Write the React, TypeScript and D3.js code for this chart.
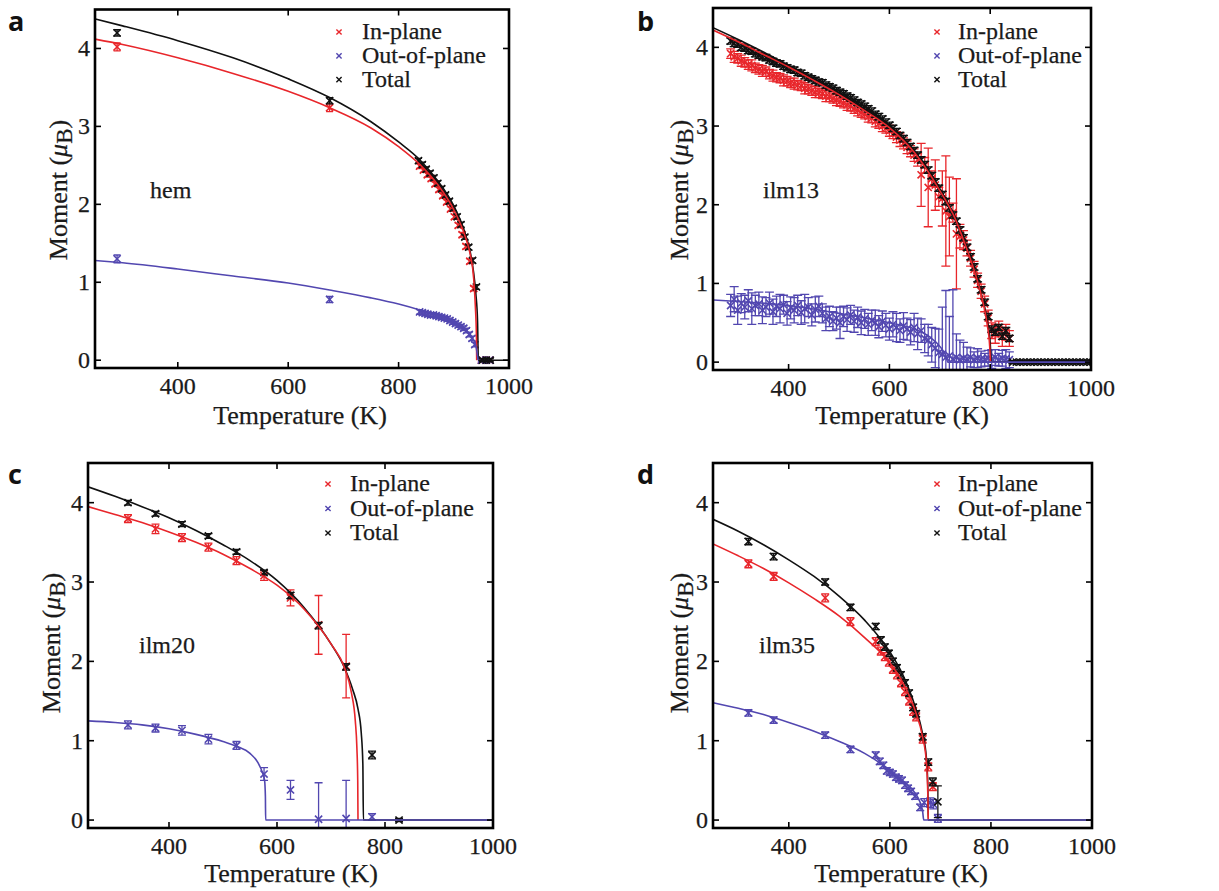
import React from 'react';
import * as d3 from 'd3';

type Pt = [number, number, number?];
type CP = [number, number];

const xTicks = [400, 600, 800, 1000];
const yTicks = [0, 1, 2, 3, 4];
const legendLabels = ['In-plane', 'Out-of-plane', 'Total'];
const RED = '#e8262b';
const BLUE = '#5247b0';
const BLACK = '#111111';

// ---------------- panel a : hem ----------------
const hemInPlane: Pt[] = [[290,4.02,0.05],[675,3.24,0.05],[838,2.49,0.03],[845,2.44,0.03],[852,2.38,0.03],[859,2.33,0.03],[866,2.26,0.03],[873,2.19,0.03],[880,2.11,0.03],[887,2.03,0.03],[894,1.94,0.03],[901,1.84,0.03],[908,1.73,0.03],[915,1.61,0.03],[922,1.46,0.03],[929,1.27,0.03],[936,0.92,0.03],[950,0,0.02],[958,0,0.02],[965,0,0.02]];
const hemOutOfPlane: Pt[] = [[290,1.3,0.05],[675,0.78,0.04],[838,0.62,0.03],[843,0.61,0.03],[848,0.6,0.03],[853,0.59,0.03],[858,0.58,0.03],[863,0.58,0.03],[868,0.57,0.03],[873,0.56,0.03],[878,0.55,0.03],[883,0.54,0.03],[888,0.53,0.03],[893,0.51,0.03],[898,0.49,0.03],[903,0.47,0.03],[908,0.45,0.03],[913,0.43,0.03],[918,0.41,0.03],[923,0.38,0.03],[928,0.33,0.03],[933,0.28,0.03],[938,0.2,0.03],[950,0,0.02],[958,0,0.02],[965,0,0.02]];
const hemTotal: Pt[] = [[290,4.2,0.04],[675,3.33,0.04],[836,2.56,0.03],[843,2.51,0.03],[850,2.45,0.03],[857,2.4,0.03],[864,2.34,0.03],[871,2.27,0.03],[878,2.2,0.03],[885,2.12,0.03],[892,2.04,0.03],[899,1.95,0.03],[906,1.84,0.03],[913,1.74,0.03],[920,1.58,0.03],[927,1.45,0.03],[934,1.28,0.03],[941,0.94,0.03],[952,0,0.02],[959,0,0.02],[966,0,0.02]];
const hemInPlaneFit: CP[] = [[250,4.12],[300,4.05],[400,3.88],[500,3.68],[600,3.45],[675,3.24],[750,2.98],[800,2.74],[840,2.5],[870,2.26],[900,1.93],[920,1.6],[930,1.35],[936,1.05],[939,0.7],[941,0.3],[941.5,0]];
const hemOutOfPlaneFit: CP[] = [[250,1.28],[300,1.25],[400,1.17],[500,1.08],[600,0.99],[675,0.9],[750,0.8],[800,0.72],[840,0.64],[870,0.57],[900,0.49],[920,0.4],[935,0.27],[941,0.15],[944,0]];
const hemTotalFit: CP[] = [[250,4.38],[300,4.29],[400,4.1],[500,3.88],[600,3.61],[675,3.37],[750,3.06],[800,2.8],[840,2.56],[870,2.31],[900,1.98],[920,1.64],[930,1.38],[936,1.12],[940,0.85],[943,0.5],[944.5,0],[1000,0]];

// ---------------- panel b : ilm13 ----------------
const ilm13T = [285,292,299,306,313,320,327,334,341,348,355,362,369,376,383,390,397,404,411,418,425,432,439,446,453,460,467,474,481,488,495,502,509,516,523,530,537,544,551,558,565,572,579,586,593,600,607,614,621,628,635,642,649,656,663,670,677,684,691,698,705,712,719,726,733,740,747,754,761,768,775,782,789,796,803,810,817,824,831,838];
const ilm13TotalM = [4.08,4.05,4.04,4.0,3.99,3.96,3.95,3.92,3.9,3.88,3.87,3.84,3.82,3.8,3.79,3.76,3.74,3.72,3.71,3.68,3.67,3.64,3.62,3.6,3.58,3.56,3.55,3.52,3.5,3.48,3.45,3.43,3.41,3.38,3.36,3.33,3.3,3.28,3.25,3.22,3.19,3.15,3.12,3.09,3.05,3.01,2.97,2.93,2.88,2.84,2.79,2.74,2.69,2.63,2.57,2.51,2.44,2.37,2.29,2.21,2.13,2.04,1.96,1.87,1.79,1.68,1.58,1.46,1.34,1.21,1.06,0.92,0.76,0.58,0.42,0.38,0.44,0.33,0.4,0.3];
const ilm13InPlaneM = [3.92,3.88,3.86,3.83,3.81,3.78,3.77,3.74,3.72,3.7,3.69,3.66,3.64,3.62,3.61,3.58,3.57,3.55,3.54,3.52,3.51,3.48,3.47,3.45,3.43,3.42,3.41,3.38,3.37,3.35,3.33,3.31,3.29,3.27,3.25,3.22,3.2,3.17,3.15,3.12,3.1,3.06,3.03,3.0,2.97,2.94,2.9,2.86,2.82,2.78,2.73,2.68,2.63,2.57,2.38,2.5,2.22,2.33,2.25,2.1,2.08,1.92,1.85,1.9,1.63,1.6,1.55,1.45,1.32,1.18,1.04,0.9,0.74,0.56,0.4,0.36,0.42,0.32,0.38,0.3];
const ilm13InPlaneErr = [0.06,0.07,0.06,0.07,0.06,0.06,0.07,0.06,0.06,0.07,0.06,0.06,0.07,0.06,0.06,0.07,0.06,0.06,0.07,0.06,0.06,0.07,0.06,0.06,0.07,0.06,0.06,0.07,0.06,0.06,0.07,0.06,0.06,0.07,0.06,0.06,0.07,0.06,0.06,0.07,0.06,0.07,0.06,0.07,0.06,0.07,0.06,0.07,0.08,0.07,0.08,0.07,0.08,0.08,0.4,0.1,0.5,0.1,0.32,0.12,0.35,0.7,0.5,0.12,0.7,0.15,0.12,0.1,0.1,0.1,0.09,0.09,0.1,0.1,0.1,0.12,0.1,0.12,0.1,0.1];
const ilm13OutOfPlaneM = [0.72,0.8,0.66,0.75,0.7,0.78,0.68,0.72,0.74,0.66,0.7,0.75,0.64,0.71,0.68,0.73,0.62,0.69,0.66,0.72,0.63,0.68,0.7,0.6,0.67,0.71,0.62,0.55,0.58,0.52,0.56,0.5,0.58,0.54,0.6,0.52,0.57,0.5,0.55,0.48,0.53,0.5,0.45,0.52,0.47,0.42,0.48,0.44,0.4,0.46,0.42,0.38,0.44,0.36,0.4,0.3,0.28,0.22,0.18,0.12,0.1,0.06,0.08,0.04,0.06,0.03,0.05,0.04,0.06,0.03,0.05,0.04,0.03,0.05,0.04,0.06,0.03,0.05,0.04,0.03];
const ilm13OutOfPlaneErr = [0.14,0.16,0.18,0.12,0.15,0.14,0.2,0.13,0.15,0.17,0.12,0.14,0.16,0.13,0.18,0.12,0.15,0.14,0.16,0.13,0.15,0.18,0.12,0.14,0.16,0.13,0.12,0.15,0.13,0.12,0.14,0.2,0.13,0.15,0.12,0.14,0.13,0.15,0.12,0.14,0.13,0.16,0.14,0.13,0.15,0.14,0.16,0.18,0.15,0.17,0.14,0.16,0.18,0.2,0.15,0.18,0.2,0.22,0.25,0.3,0.6,0.85,0.5,0.88,0.3,0.25,0.2,0.15,0.12,0.1,0.12,0.1,0.08,0.1,0.12,0.1,0.08,0.1,0.12,0.1];
const ilm13ZeroT = [845,852,859,866,873,880,887,894,901,908,915,922,929,936,943,950,957,964,971,978,985,992,999];
const ilm13InPlaneFit: CP[] = [[250,4.22],[300,4.07],[350,3.91],[400,3.75],[450,3.58],[500,3.4],[550,3.2],[600,2.98],[650,2.66],[700,2.18],[730,1.83],[750,1.5],[770,1.13],[785,0.78],[794,0.48],[799,0.2],[800.5,0]];
const ilm13OutOfPlaneFit: CP[] = [[250,0.79],[300,0.77],[400,0.72],[500,0.62],[600,0.5],[650,0.42],[680,0.32],[700,0.2],[712,0.08],[716,0],[1000,0]];
const ilm13TotalFit: CP[] = [[250,4.25],[300,4.1],[350,3.94],[400,3.77],[450,3.6],[500,3.42],[550,3.22],[600,3.0],[650,2.68],[700,2.2],[730,1.85],[750,1.52],[770,1.15],[785,0.8],[795,0.5],[800,0.25],[802,0],[1000,0]];

// ---------------- panel c : ilm20 ----------------
const ilm20InPlane: Pt[] = [[324,3.8,0.05],[375,3.67,0.06],[424,3.56,0.05],[473,3.44,0.05],[525,3.27,0.05],[576,3.08,0.06],[625,2.8,0.1],[677,2.46,0.37],[728,1.94,0.4]];
const ilm20OutOfPlane: Pt[] = [[324,1.2,0.05],[375,1.16,0.05],[424,1.13,0.06],[473,1.02,0.06],[525,0.94,0.05],[576,0.58,0.08],[625,0.38,0.12],[677,0.01,0.46],[728,0.02,0.48],[776,0.04,0.04]];
const ilm20Total: Pt[] = [[324,4.0,0.03],[375,3.86,0.03],[424,3.73,0.03],[473,3.58,0.03],[525,3.38,0.03],[576,3.12,0.03],[625,2.83,0.04],[677,2.45,0.04],[728,1.93,0.04],[776,0.82,0.05],[826,0,0.02]];
const ilm20InPlaneFit: CP[] = [[250,3.95],[300,3.85],[350,3.75],[400,3.63],[450,3.5],[500,3.35],[550,3.17],[600,2.96],[650,2.66],[700,2.22],[725,1.92],[738,1.6],[745,1.25],[748,0.9],[749.5,0.5],[750,0]];
const ilm20OutOfPlaneFit: CP[] = [[250,1.25],[300,1.23],[350,1.2],[400,1.15],[450,1.08],[500,0.99],[525,0.93],[550,0.84],[565,0.72],[573,0.6],[577,0.5],[578.5,0.3],[579,0],[1000,0]];
const ilm20TotalFit: CP[] = [[250,4.2],[300,4.08],[350,3.95],[400,3.81],[450,3.65],[500,3.47],[550,3.27],[600,3.02],[650,2.68],[700,2.22],[725,1.92],[740,1.65],[750,1.4],[756,1.1],[759,0.7],[760,0],[1000,0]];

// ---------------- panel d : ilm35 ----------------
const ilm35InPlane: Pt[] = [[320,3.23,0.05],[370,3.07,0.05],[472,2.8,0.05],[522,2.5,0.05],[572,2.25,0.05],[582,2.13,0.05],[590,2.06,0.05],[598,1.99,0.05],[606,1.9,0.05],[614,1.83,0.05],[622,1.73,0.05],[630,1.62,0.05],[638,1.5,0.05],[646,1.37,0.05],[652,1.3,0.05],[665,1.02,0.05],[676,0.67,0.05],[685,0.42,0.05]];
const ilm35OutOfPlane: Pt[] = [[320,1.35,0.04],[370,1.26,0.04],[472,1.07,0.04],[522,0.89,0.04],[572,0.82,0.04],[580,0.74,0.04],[587,0.69,0.04],[594,0.62,0.04],[600,0.6,0.04],[606,0.58,0.04],[612,0.54,0.04],[618,0.52,0.04],[624,0.5,0.04],[630,0.44,0.04],[636,0.4,0.04],[642,0.36,0.04],[650,0.3,0.04],[660,0.16,0.04],[668,0.22,0.05],[680,0.22,0.06],[686,0.2,0.06],[695,0.02,0.05]];
const ilm35Total: Pt[] = [[320,3.51,0.04],[370,3.32,0.04],[472,3.0,0.04],[522,2.68,0.04],[572,2.44,0.04],[582,2.27,0.04],[590,2.18,0.04],[598,2.1,0.04],[606,2.0,0.04],[614,1.92,0.04],[622,1.83,0.04],[630,1.73,0.04],[638,1.6,0.04],[646,1.42,0.04],[652,1.34,0.04],[665,1.05,0.04],[676,0.73,0.04],[685,0.48,0.05],[695,0.23,0.2]];
const ilm35InPlaneFit: CP[] = [[250,3.48],[300,3.33],[350,3.17],[400,2.99],[450,2.79],[500,2.57],[550,2.3],[600,1.98],[625,1.74],[650,1.38],[665,1.04],[672,0.75],[675,0.35],[676,0]];
const ilm35OutOfPlaneFit: CP[] = [[250,1.48],[300,1.41],[350,1.33],[400,1.23],[450,1.12],[500,0.99],[550,0.84],[600,0.63],[625,0.5],[650,0.34],[660,0.22],[665,0.1],[667,0],[1000,0]];
const ilm35TotalFit: CP[] = [[250,3.79],[300,3.64],[350,3.47],[400,3.28],[450,3.07],[500,2.82],[550,2.52],[600,2.12],[625,1.84],[650,1.43],[665,1.08],[672,0.8],[675,0.45],[676,0],[1000,0]];

const zip = (t: number[], m: number[], e?: number[]): Pt[] => t.map((v, i) => [v, m[i], e ? e[i] : 0.04]);

interface Series { pts: Pt[]; fit: CP[]; color: string; }
interface Cfg {
  id: string; letter: string; name: string;
  left: number; right: number; top: number; bottom: number;
  letterX: number; letterY: number;
  legX: number; legTX: number; legY: number; legDy: number;
  nameX: number; nameY: number;
  ylabX: number; ylabY: number; xlabX: number; xlabY: number;
  cap: number;
  inPlane: Series; out: Series; total: Series;
}

const panels: Cfg[] = [
  { id: 'a', letter: 'a', name: 'hem', left: 95, right: 509, top: 9.5, bottom: 368,
    letterX: 8, letterY: 31, legX: 339, legTX: 362, legY: 32, legDy: 23.8,
    nameX: 150, nameY: 198, ylabX: 67, ylabY: 190, xlabX: 300, xlabY: 424, cap: 7,
    inPlane: { pts: hemInPlane, fit: hemInPlaneFit, color: RED },
    out: { pts: hemOutOfPlane, fit: hemOutOfPlaneFit, color: BLUE },
    total: { pts: hemTotal, fit: hemTotalFit, color: BLACK } },
  { id: 'b', letter: 'b', name: 'ilm13', left: 713, right: 1091, top: 8, bottom: 370,
    letterX: 637, letterY: 31, legX: 937, legTX: 958, legY: 32, legDy: 23.8,
    nameX: 763, nameY: 198, ylabX: 688, ylabY: 190, xlabX: 902, xlabY: 424, cap: 9,
    inPlane: { pts: zip(ilm13T, ilm13InPlaneM, ilm13InPlaneErr), fit: ilm13InPlaneFit, color: RED },
    out: { pts: zip(ilm13T, ilm13OutOfPlaneM, ilm13OutOfPlaneErr), fit: ilm13OutOfPlaneFit, color: BLUE },
    total: { pts: [...zip(ilm13T, ilm13TotalM), ...ilm13ZeroT.map((t): Pt => [t, 0, 0.02])], fit: ilm13TotalFit, color: BLACK } },
  { id: 'c', letter: 'c', name: 'ilm20', left: 88, right: 493, top: 463, bottom: 828,
    letterX: 8, letterY: 484, legX: 328, legTX: 350, legY: 484, legDy: 24.5,
    nameX: 139, nameY: 653, ylabX: 60, ylabY: 643, xlabX: 291, xlabY: 882, cap: 8,
    inPlane: { pts: ilm20InPlane, fit: ilm20InPlaneFit, color: RED },
    out: { pts: ilm20OutOfPlane, fit: ilm20OutOfPlaneFit, color: BLUE },
    total: { pts: ilm20Total, fit: ilm20TotalFit, color: BLACK } },
  { id: 'd', letter: 'd', name: 'ilm35', left: 713, right: 1092, top: 463, bottom: 828,
    letterX: 637, letterY: 484, legX: 937, legTX: 958, legY: 484, legDy: 24.5,
    nameX: 759, nameY: 653, ylabX: 688, ylabY: 643, xlabX: 901, xlabY: 882, cap: 8,
    inPlane: { pts: ilm35InPlane, fit: ilm35InPlaneFit, color: RED },
    out: { pts: ilm35OutOfPlane, fit: ilm35OutOfPlaneFit, color: BLUE },
    total: { pts: ilm35Total, fit: ilm35TotalFit, color: BLACK } },
];

const SERIF = "'Liberation Serif', 'Times New Roman', serif";
const TXT = '#1a1a1a';

const cross = (cx: number, cy: number, s: number) =>
  `M${cx - s},${cy - s}L${cx + s},${cy + s}M${cx - s},${cy + s}L${cx + s},${cy - s}`;

function Panel({ c }: { c: Cfg }) {
  const x = d3.scaleLinear().domain([250, 1000]).range([c.left, c.right]);
  const y = d3.scaleLinear().domain([-0.1, 4.5]).range([c.bottom, c.top]);
  const line = d3.line<CP>().x(d => x(d[0])).y(d => y(d[1])).curve(d3.curveMonotoneX);
  const clipId = `clip-${c.id}`;
  const series = [c.inPlane, c.out, c.total];
  const tl = 6;
  const t24 = { fontFamily: SERIF, fontSize: 24, fill: TXT, stroke: TXT, strokeWidth: 0.25 };
  const t26 = { fontFamily: SERIF, fontSize: 26, fill: TXT, stroke: TXT, strokeWidth: 0.25 };
  return (
    <g>
      <defs>
        <clipPath id={clipId}>
          <rect x={c.left} y={c.top} width={c.right - c.left} height={c.bottom - c.top} />
        </clipPath>
      </defs>
      <g clipPath={`url(#${clipId})`}>
        {series.map((s, si) => (
          <g key={si} stroke={s.color} fill="none" strokeWidth={1.3}>
            {s.pts.map((p, i) => {
              const px = x(p[0]);
              const e = p[2] ?? 0;
              const y1 = y(p[1] - e), y2 = y(p[1] + e);
              return (
                <g key={i}>
                  <path d={`M${px},${y1}L${px},${y2}M${px - c.cap / 2},${y1}L${px + c.cap / 2},${y1}M${px - c.cap / 2},${y2}L${px + c.cap / 2},${y2}`} />
                  <path d={cross(px, y(p[1]), 3.6)} strokeWidth={1.6} />
                </g>
              );
            })}
          </g>
        ))}
        {[c.total, c.inPlane, c.out].map((s, si) => (
          <path key={si} d={line(s.fit) || ''} stroke={s.color} fill="none" strokeWidth={1.6} />
        ))}
      </g>
      <rect x={c.left} y={c.top} width={c.right - c.left} height={c.bottom - c.top} fill="none" stroke="#000" strokeWidth={2.6} />
      {xTicks.map(t => (
        <g key={t}>
          <line x1={x(t)} x2={x(t)} y1={c.bottom} y2={c.bottom - tl} stroke="#000" strokeWidth={1.6} />
          <line x1={x(t)} x2={x(t)} y1={c.top} y2={c.top + tl} stroke="#000" strokeWidth={1.6} />
          <text x={x(t)} y={c.bottom + 26} textAnchor="middle" {...t24}>{t}</text>
        </g>
      ))}
      {yTicks.map(t => (
        <g key={t}>
          <line x1={c.left} x2={c.left + tl} y1={y(t)} y2={y(t)} stroke="#000" strokeWidth={1.6} />
          <line x1={c.right} x2={c.right - tl} y1={y(t)} y2={y(t)} stroke="#000" strokeWidth={1.6} />
          <text x={c.left - 5} y={y(t) + 8} textAnchor="end" {...t24}>{t}</text>
        </g>
      ))}
      {series.map((s, i) => (
        <g key={i}>
          <path d={cross(c.legX, c.legY + i * c.legDy, 2.6)} stroke={s.color} strokeWidth={1.4} fill="none" />
          <text x={c.legTX} y={c.legY + i * c.legDy + 7} {...t24}>{legendLabels[i]}</text>
        </g>
      ))}
      <text x={c.nameX} y={c.nameY} {...t24}>{c.name}</text>
      <text transform={`translate(${c.ylabX},${c.ylabY}) rotate(-90)`} textAnchor="middle" {...t26}>
        Moment (<tspan fontStyle="italic">μ</tspan><tspan dy={5} fontSize={23}>B</tspan><tspan dy={-5}>)</tspan>
      </text>
      <text x={c.xlabX} y={c.xlabY} textAnchor="middle" {...t26}>Temperature (K)</text>
      <text x={c.letterX} y={c.letterY} fontFamily="'Open Sans', 'Liberation Sans', sans-serif" fontWeight={700} fontSize={27} fill="#111">{c.letter}</text>
    </g>
  );
}

export default function App() {
  return (
    <svg width={1219} height={891} style={{ position: 'absolute', left: 0, top: 0, background: '#fff' }}>
      <rect width={1219} height={891} fill="#fff" />
      {panels.map(p => <Panel key={p.id} c={p} />)}
    </svg>
  );
}
